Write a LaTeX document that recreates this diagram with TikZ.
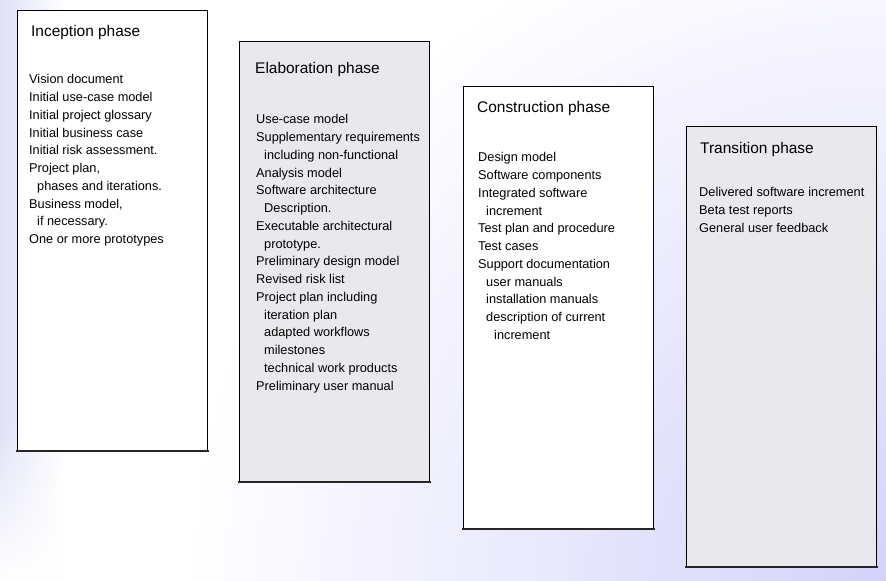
\documentclass[tikz,border=0pt]{standalone}
\usepackage{fontspec}
\setmainfont{Liberation Sans}
\usetikzlibrary{positioning,calc,fadings}

\definecolor{phasegrey}{HTML}{E9E8EC}
\definecolor{bglav}{HTML}{E0E0F8}
\definecolor{bgdeep}{HTML}{D4D2FA}

\newcommand{\phaseindent}{\hspace*{8bp}}
\newcommand{\phaselines}[1]{\begin{tabular}[t]{@{}l@{}}#1\end{tabular}}

\tikzset{
	phasebox/.style={draw=black, line width=1.1bp, minimum width=190bp, minimum height=440bp, anchor=north west, inner sep=0pt},
	phasebottom/.style={line width=1.8bp, line cap=rect, black!85},
	phasetitle/.style={anchor=base west, inner sep=0pt, font=\fontsize{15.5}{18}\selectfont},
	phaselist/.style={anchor=base west, inner sep=0pt, font=\fontsize{12.8}{17.8}\selectfont}
}

\begin{document}
\begin{tikzpicture}[x=1bp, y=-1bp]
	\useasboundingbox (0,0) rectangle (886,581);
	% background
	\begin{scope}
		\clip (0,0) rectangle (886,581);
		\fill[white] (0,0) rectangle (886,581);
		\shade[left color=bglav, right color=white] (0,0) rectangle (65,581);
		\fill[white, path fading=north] (0,420) rectangle (70,581);
		\shade[inner color=bgdeep, outer color=white] (886,581) circle (700);
	\end{scope}

	% the four phases
	\node[phasebox, fill=white] (incbox) at (17,10) {};
	\node[phasebox, fill=phasegrey] (elabbox) at (239,41) {};
	\node[phasebox, fill=white, minimum height=442bp] (consbox) at (463,86) {};
	\node[phasebox, fill=phasegrey] (transbox) at (686,126) {};

	\draw[phasebottom] (incbox.south west) -- (incbox.south east);
	\draw[phasebottom] (elabbox.south west) -- (elabbox.south east);
	\draw[phasebottom] (consbox.south west) -- (consbox.south east);
	\draw[phasebottom] (transbox.south west) -- (transbox.south east);

	\node[phasetitle] (inctitle) at (31,37) {Inception phase};
	\node[phasetitle] (elabtitle) at (255,74) {Elaboration phase};
	\node[phasetitle] (constitle) at (477,113) {Construction phase};
	\node[phasetitle] (transtitle) at (700,154) {Transition phase};

	\node[phaselist] (inclist) at (29,84) {\phaselines{
		Vision document\\
		Initial use-case model\\
		Initial project glossary\\
		Initial business case\\
		Initial risk assessment.\\
		Project plan,\\
		\phaseindent phases and iterations.\\
		Business model,\\
		\phaseindent if necessary.\\
		One or more prototypes}};

	\node[phaselist] (elablist) at (256,124) {\phaselines{
		Use-case model\\
		Supplementary requirements\\
		\phaseindent including non-functional\\
		Analysis model\\
		Software architecture\\
		\phaseindent Description.\\
		Executable architectural\\
		\phaseindent prototype.\\
		Preliminary design model\\
		Revised risk list\\
		Project plan including\\
		\phaseindent iteration plan\\
		\phaseindent adapted workflows\\
		\phaseindent milestones\\
		\phaseindent technical work products\\
		Preliminary user manual}};

	\node[phaselist] (conslist) at (478,162) {\phaselines{
		Design model\\
		Software components\\
		Integrated software\\
		\phaseindent increment\\
		Test plan and procedure\\
		Test cases\\
		Support documentation\\
		\phaseindent user manuals\\
		\phaseindent installation manuals\\
		\phaseindent description of current\\
		\phaseindent\phaseindent increment}};

	\node[phaselist] (translist) at (699,197) {\phaselines{
		Delivered software increment\\
		Beta test reports\\
		General user feedback}};
\end{tikzpicture}
\end{document}
